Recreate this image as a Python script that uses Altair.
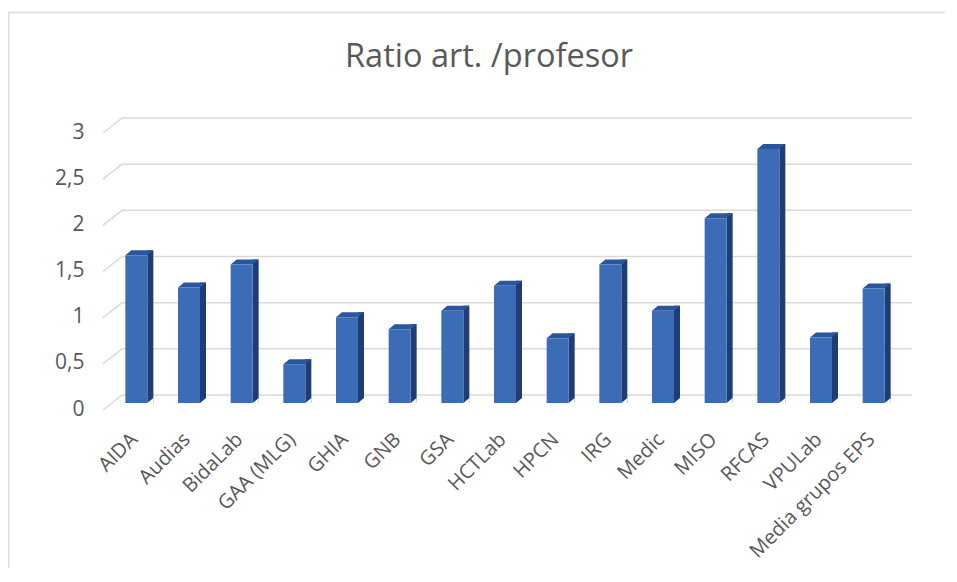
import altair as alt
import pandas as pd

categories = ["AIDA", "Audias", "BidaLab", "GAA (MLG)", "GHIA", "GNB", "GSA", "HCTLab",
              "HPCN", "IRG", "Medic", "MISO", "RFCAS", "VPULab", "Media grupos EPS"]
values = [1.6, 1.25, 1.5, 0.42, 0.93, 0.8, 1.0, 1.27, 0.7, 1.5, 1.0, 2.0, 2.75, 0.71, 1.24]
grid_ticks = [0, 0.5, 1, 1.5, 2, 2.5, 3]
title_text = "Ratio art. /profesor"

df = pd.DataFrame({"grupo": categories, "ratio": values})
gdf = pd.DataFrame({"ratio": grid_ticks})
one = pd.DataFrame({"k": [0]})

W, H = 790, 277
FONT = "Open Sans"
TXT = "#595959"
GRID = "#D9D9D9"
FRONT = "#3D6CB7"
SIDE = "#1E3D75"
TOP = "#2A559F"

yscale = alt.Scale(domain=[0, 3], nice=False, zero=True)
xscale = alt.Scale(paddingInner=0, paddingOuter=0)

yaxis = alt.Axis(values=grid_ticks, labelExpr="replace(format(datum.value, '~g'), '.', ',')",
                 domain=False, ticks=False, grid=False, labelPadding=26,
                 labelFontSize=21, labelColor=TXT, labelFont=FONT,
                 labelOffset=6, title=None)
xaxis = alt.Axis(labelAngle=315, labelAlign="right", labelBaseline="middle", labelPadding=33,
                 labelOffset=-2, domain=False, ticks=False, grid=False, labelFontSize=20,
                 labelColor=TXT, labelFont=FONT, labelLimit=400, title=None)

def X():
    return alt.X("grupo:N", sort=categories, scale=xscale, axis=xaxis, title=None)

def Y(field="ratio:Q"):
    return alt.Y(field, scale=yscale, axis=yaxis, title=None)

grid_back = alt.Chart(gdf).mark_rule(color=GRID, strokeWidth=1.5, yOffset=-8).encode(
    y=Y(), x=alt.value(12), x2=alt.value(802),
)

grid_diag = alt.Chart(gdf).mark_rule(color=GRID, strokeWidth=1.5, yOffset=7, y2Offset=-8).encode(
    y=Y(), y2=alt.Y2("ratio"), x=alt.value(-7), x2=alt.value(12),
)

side = alt.Chart(df).mark_bar(color=SIDE, size=6, xOffset=14, yOffset=-5).encode(
    x=X(), y=Y(), y2=alt.datum(0),
)

bottom_cut = alt.Chart(df).mark_point(
    shape="M -1 1 L 1 -0.6667 L 1 1 Z", filled=True, fill="white", strokeWidth=0,
    opacity=1, size=36, xOffset=14, yOffset=-3,
).encode(x=X(), y=alt.datum(0))

top = alt.Chart(df).mark_point(
    shape="M -1 0.1786 L -0.5714 -0.1786 L 1 -0.1786 L 0.5714 0.1786 Z",
    filled=True, fill=TOP, strokeWidth=0, opacity=1, size=784, xOffset=3, yOffset=-2.5,
).encode(x=X(), y=Y())

front = alt.Chart(df).mark_bar(color=FRONT, size=22).encode(
    x=X(), y=Y(), y2=alt.datum(0),
)

border_left = alt.Chart(one).mark_rule(color=GRID, strokeWidth=1.5).encode(
    x=alt.value(-101.5), x2=alt.value(-101.5), y=alt.value(-113.5), y2=alt.value(470))
border_top = alt.Chart(one).mark_rule(color=GRID, strokeWidth=1.5).encode(
    x=alt.value(-101.5), x2=alt.value(860), y=alt.value(-113.5), y2=alt.value(-113.5))

title = alt.Chart(one).mark_text(text=title_text, fontSize=32.5, font=FONT, color=TXT,
                                 align="center", baseline="middle").encode(
    x=alt.value(379), y=alt.value(-69))

chart = alt.layer(grid_back, grid_diag, side, bottom_cut, top, front,
                  border_left, border_top, title).properties(
    width=W, height=H,
    background="white",
    autosize=alt.AutoSizeParams(type="none"),
    padding={"left": 102, "top": 118, "right": 45, "bottom": 165},
).configure_view(stroke=None)

chart.save("out.html", embed_options={"renderer": "svg", "actions": False})
